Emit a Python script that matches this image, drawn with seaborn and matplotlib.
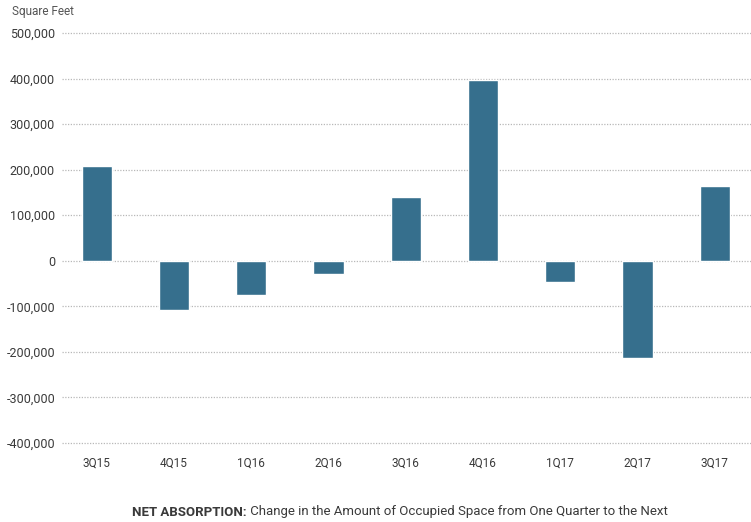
import matplotlib
matplotlib.use("Agg")
import matplotlib.pyplot as plt
import seaborn as sns
import pandas as pd
from matplotlib.ticker import FuncFormatter

quarters = ["3Q15", "4Q15", "1Q16", "2Q16", "3Q16", "4Q16", "1Q17", "2Q17", "3Q17"]
net_absorption = [207000, -108000, -76000, -29000, 139000, 398000, -47000, -214000, 165000]
y_ticks = [-400000, -300000, -200000, -100000, 0, 100000, 200000, 300000, 400000, 500000]

sns.set_theme(style="white")
plt.rcParams["font.family"] = ["Liberation Sans Narrow", "Roboto", "DejaVu Sans"]

bar_color = "#366f8d"
text_color = "#3a3a3a"

df = pd.DataFrame({"quarter": quarters, "sf": net_absorption})

fig = plt.figure(figsize=(7.51, 5.22), dpi=100)
# small margin above/below the outer gridlines so they are not clipped
ax = fig.add_axes([62 / 751, 1 - 445 / 522, 1 - 62 / 751, (445 - 31) / 522])

sns.barplot(data=df, x="quarter", y="sf", color=bar_color, width=0.39,
            saturation=1, ax=ax, zorder=3)

ax.set_ylim(-404500, 504500)
ax.set_xlim(-0.45, 8.47)
ax.set_yticks(y_ticks)
ax.yaxis.set_major_formatter(FuncFormatter(lambda v, p: f"{int(v):,}"))
ax.grid(axis="y", color="#b8b8b8", linestyle=(0, (1, 1.2)), linewidth=0.9, zorder=0)
ax.grid(axis="x", visible=False)
for s in ax.spines.values():
    s.set_visible(False)
ax.tick_params(axis="y", length=0, pad=5, labelsize=9, labelcolor=text_color)
ax.tick_params(axis="x", length=0, pad=8, labelsize=8.5, labelcolor=text_color)
ax.set_xlabel("")
ax.set_ylabel("")

fig.text(12 / 751, 1 - 12 / 522, "Square Feet", fontsize=8.5, color="#555555",
         ha="left", va="center")

# Caption: bold lead-in followed by regular text, centred as a whole
fig.canvas.draw()
renderer = fig.canvas.get_renderer()
bold = fig.text(0, 1 - 512 / 522, "NET ABSORPTION:", fontsize=9.5, fontweight="bold",
                color=text_color, ha="left", va="center")
rest = fig.text(0, 1 - 512 / 522, " Change in the Amount of Occupied Space from One Quarter to the Next",
                fontsize=9.5, color=text_color, ha="left", va="center")
wb = bold.get_window_extent(renderer).width
wr = rest.get_window_extent(renderer).width
start = 400 - (wb + wr) / 2
bold.set_x(start / fig.bbox.width)
rest.set_x((start + wb) / fig.bbox.width)

fig.savefig("out.png", dpi=100)
